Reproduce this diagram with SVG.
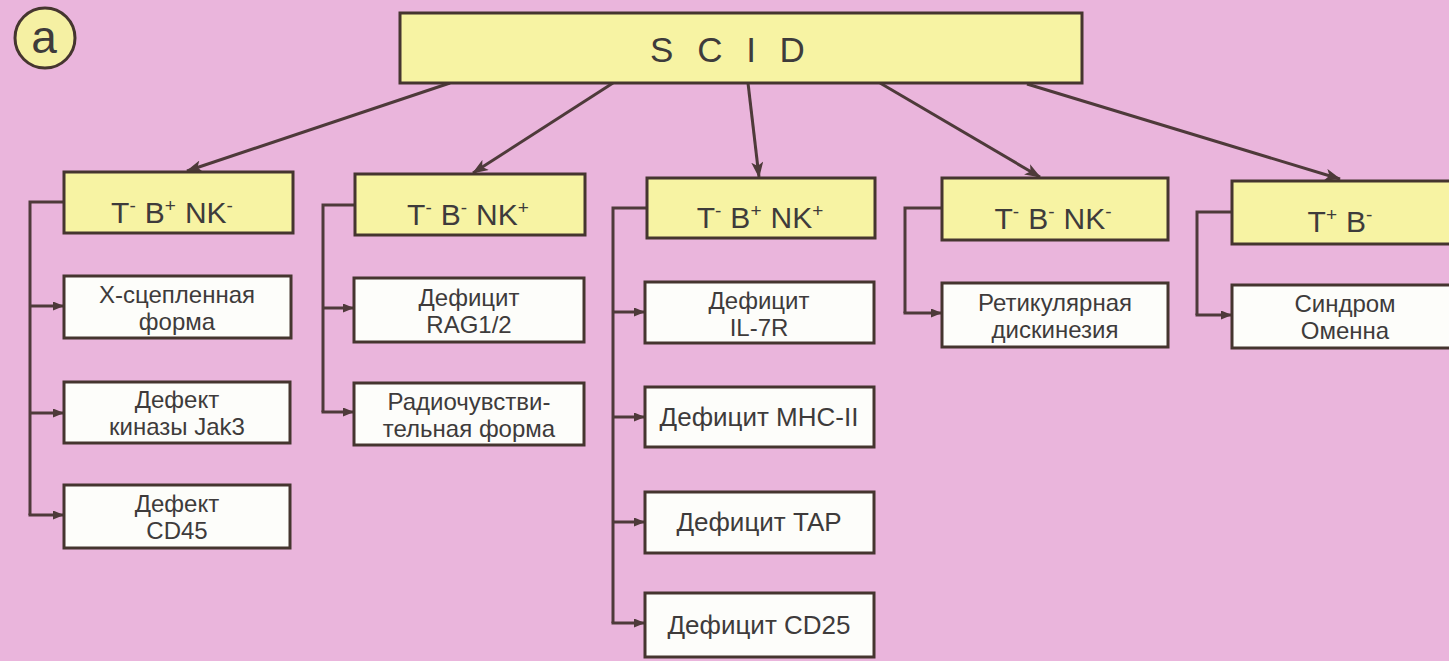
<svg xmlns="http://www.w3.org/2000/svg" width="1449" height="661" viewBox="0 0 1449 661">
<defs>
<marker id="ah" markerUnits="userSpaceOnUse" markerWidth="16" markerHeight="12" refX="15" refY="6" orient="auto">
<path d="M0,0 L16,6 L0,12 L4,6 z" fill="#4e3a3a"/>
</marker>
<marker id="ahs" markerUnits="userSpaceOnUse" markerWidth="11" markerHeight="9" refX="10" refY="4.5" orient="auto">
<path d="M0,0 L11,4.5 L0,9 z" fill="#4e3a3a"/>
</marker>
</defs>
<style>
.y{fill:#f7f3a3;stroke:#45352f;stroke-width:3}
.w{fill:#fdfdfa;stroke:#45352f;stroke-width:3}
.t{font-family:"Liberation Sans",Arial,sans-serif;font-size:24px;fill:#3e3b3b;text-anchor:middle}
.t1{font-family:"Liberation Sans",Arial,sans-serif;font-size:26px;fill:#3e3b3b;text-anchor:middle}
.h{font-family:"Liberation Sans",Arial,sans-serif;font-size:30px;fill:#3e3b3b;text-anchor:middle}
.s{font-size:19px}
.c{fill:none;stroke:#4e3a3a;stroke-width:3}
.b{fill:none;stroke:#4e3a3a;stroke-width:3;stroke-linejoin:miter}
</style>
<rect width="1449" height="661" fill="#eab5dc"/>

<g id="label-a">
<circle cx="45" cy="38" r="30" fill="#f5f0a3" stroke="#45352f" stroke-width="3"/>
<text x="44" y="53" font-family="'Liberation Sans',Arial,sans-serif" font-size="46" fill="#3e3b3b" text-anchor="middle">a</text>
</g>

<g id="connectors">
<line class="c" x1="450" y1="83" x2="187" y2="171" marker-end="url(#ah)"/>
<line class="c" x1="613" y1="83" x2="473" y2="173" marker-end="url(#ah)"/>
<line class="c" x1="748" y1="83" x2="759" y2="177" marker-end="url(#ah)"/>
<line class="c" x1="880" y1="83" x2="1040" y2="177" marker-end="url(#ah)"/>
<line class="c" x1="1027" y1="84" x2="1340" y2="179" marker-end="url(#ah)"/>

<path class="b" d="M64,202 H30 V515"/>
<path class="c" d="M30,306 H63" marker-end="url(#ahs)"/>
<path class="c" d="M30,413 H63" marker-end="url(#ahs)"/>
<path class="c" d="M28.5,515 H63" marker-end="url(#ahs)"/>

<path class="b" d="M355,205 H323 V412"/>
<path class="c" d="M323,308 H353" marker-end="url(#ahs)"/>
<path class="c" d="M321.5,412 H353" marker-end="url(#ahs)"/>

<path class="b" d="M647,208 H613 V623"/>
<path class="c" d="M613,312 H644" marker-end="url(#ahs)"/>
<path class="c" d="M613,417 H644" marker-end="url(#ahs)"/>
<path class="c" d="M613,522 H644" marker-end="url(#ahs)"/>
<path class="c" d="M611.5,623 H644" marker-end="url(#ahs)"/>

<path class="b" d="M942,208 H905 V313"/>
<path class="c" d="M903.5,313 H941" marker-end="url(#ahs)"/>

<path class="b" d="M1232,212 H1197 V315"/>
<path class="c" d="M1195.5,315 H1231" marker-end="url(#ahs)"/>
</g>

<g id="scid">
<rect class="y" x="400" y="13" width="682" height="70"/>
<text x="731" y="62" font-family="'Liberation Sans',Arial,sans-serif" font-size="35" fill="#3e3b3b" text-anchor="middle" letter-spacing="7">S C I D</text>
</g>

<g id="g1">
<rect class="y" x="64" y="172" width="229" height="61"/>
<text class="h" x="172" y="223">T<tspan class="s" dy="-11">-</tspan><tspan dy="11" dx="9">B</tspan><tspan class="s" dy="-11">+</tspan><tspan dy="11" dx="9">NK</tspan><tspan class="s" dy="-11">-</tspan></text>
</g>
<g id="g2">
<rect class="y" x="355" y="174" width="230" height="61"/>
<text class="h" x="468" y="225">T<tspan class="s" dy="-11">-</tspan><tspan dy="11" dx="9">B</tspan><tspan class="s" dy="-11">-</tspan><tspan dy="11" dx="9">NK</tspan><tspan class="s" dy="-11">+</tspan></text>
</g>
<g id="g3">
<rect class="y" x="647" y="178" width="228" height="60"/>
<text class="h" x="760" y="228">T<tspan class="s" dy="-11">-</tspan><tspan dy="11" dx="9">B</tspan><tspan class="s" dy="-11">+</tspan><tspan dy="11" dx="9">NK</tspan><tspan class="s" dy="-11">+</tspan></text>
</g>
<g id="g4">
<rect class="y" x="942" y="178" width="226" height="62"/>
<text class="h" x="1053" y="229">T<tspan class="s" dy="-11">-</tspan><tspan dy="11" dx="9">B</tspan><tspan class="s" dy="-11">-</tspan><tspan dy="11" dx="9">NK</tspan><tspan class="s" dy="-11">-</tspan></text>
</g>
<g id="g5">
<rect class="y" x="1232" y="181" width="226" height="63"/>
<text class="h" x="1340" y="232">T<tspan class="s" dy="-11">+</tspan><tspan dy="11" dx="9">B</tspan><tspan class="s" dy="-11">-</tspan></text>
</g>

<g id="n-x">
<rect class="w" x="64" y="276" width="227" height="62"/>
<text class="t" x="177" y="303">X-сцепленная</text>
<text class="t" x="177" y="330">форма</text>
</g>
<g id="n-jak3">
<rect class="w" x="64" y="382" width="226" height="61"/>
<text class="t" x="177" y="408">Дефект</text>
<text class="t" x="177" y="435">киназы Jak3</text>
</g>
<g id="n-cd45">
<rect class="w" x="64" y="485" width="226" height="63"/>
<text class="t" x="177" y="512">Дефект</text>
<text class="t" x="177" y="539">CD45</text>
</g>

<g id="n-rag">
<rect class="w" x="354" y="278" width="230" height="64"/>
<text class="t" x="469" y="306">Дефицит</text>
<text class="t" x="469" y="333">RAG1/2</text>
</g>
<g id="n-radio">
<rect class="w" x="354" y="383" width="230" height="62"/>
<text class="t" x="469" y="410">Радиочувстви-</text>
<text class="t" x="469" y="437">тельная форма</text>
</g>

<g id="n-il7r">
<rect class="w" x="645" y="282" width="229" height="61"/>
<text class="t" x="759" y="309">Дефицит</text>
<text class="t" x="759" y="336">IL-7R</text>
</g>
<g id="n-mhc">
<rect class="w" x="645" y="387" width="229" height="60"/>
<text class="t1" x="759" y="426">Дефицит MHC-II</text>
</g>
<g id="n-tap">
<rect class="w" x="645" y="492" width="229" height="61"/>
<text class="t1" x="759" y="531">Дефицит TAP</text>
</g>
<g id="n-cd25">
<rect class="w" x="645" y="593" width="229" height="64"/>
<text class="t1" x="759" y="634">Дефицит CD25</text>
</g>

<g id="n-ret">
<rect class="w" x="942" y="283" width="226" height="64"/>
<text class="t" x="1055" y="311">Ретикулярная</text>
<text class="t" x="1055" y="338">дискинезия</text>
</g>
<g id="n-omenn">
<rect class="w" x="1232" y="285" width="226" height="63"/>
<text class="t" x="1345" y="312">Синдром</text>
<text class="t" x="1345" y="339">Оменна</text>
</g>
</svg>
